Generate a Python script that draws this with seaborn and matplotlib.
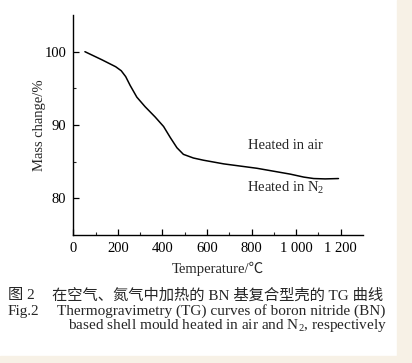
import pandas as pd
import seaborn as sns
import matplotlib.pyplot as plt
from matplotlib.patches import Rectangle

# TG curve
temperatura = [52, 128, 190, 215, 235, 255, 285, 322, 367, 405, 435, 465, 494, 539, 584,
               675, 824, 974, 1034, 1079, 1130, 1190]
massa = [100.0, 98.9, 97.95, 97.4, 96.6, 95.4, 93.8, 92.5, 91.1, 89.8, 88.3, 86.9, 86.0, 85.5,
         85.2, 84.7, 84.1, 83.3, 82.9, 82.7, 82.65, 82.7]

xticks = [0, 200, 400, 600, 800, 1000, 1200]
xlabels = ['0', '200', '400', '600', '800', '1 000', '1 200']
yticks = [80, 90, 100]

dados = pd.DataFrame({'T': temperatura, 'm': massa})

sns.set_style('ticks')
plt.rcParams['font.family'] = ['Liberation Serif', 'Noto Sans CJK SC']
plt.rcParams['mathtext.fontset'] = 'custom'
plt.rcParams['mathtext.rm'] = 'Liberation Serif'
plt.rcParams['mathtext.it'] = 'Liberation Serif:italic'
plt.rcParams['xtick.direction'] = 'in'
plt.rcParams['ytick.direction'] = 'in'

fig = plt.figure(figsize=(4.12, 3.63), dpi=100)
fig.patch.set_facecolor('white')
fig.patches.append(Rectangle((397 / 412, 0), 15 / 412, 1, transform=fig.transFigure,
                             color='#f7f1e6', zorder=-1))
fig.patches.append(Rectangle((0, 0), 1, 7 / 363, transform=fig.transFigure,
                             color='#f7f1e6', zorder=-1))

ax = fig.add_axes([0.178, 0.3526, 0.703, 0.606])
sns.lineplot(data=dados, x='T', y='m', ax=ax, color='black', linewidth=1.1)

ax.set_xlim(0, 1300)
ax.set_ylim(75, 105)
ax.set_xticks(xticks)
ax.set_xticklabels(xlabels)
ax.set_xticks(range(100, 1300, 200), minor=True)
ax.set_yticks(yticks)
ax.set_yticks([85, 95], minor=True)
ax.tick_params(which='major', length=4, width=0.9, labelsize=10.5, colors='black', pad=5)
ax.tick_params(which='minor', length=2.5, width=0.8)
sns.despine(ax=ax)
for s in ['left', 'bottom']:
    ax.spines[s].set_linewidth(1.0)
    ax.spines[s].set_color('black')

ax.set_xlabel('Temperature/℃', fontsize=10.5, labelpad=5)
ax.set_ylabel('Mass change/%', fontsize=10.5, labelpad=-1)

ax.text(951, 87.2, 'Heated in air', fontsize=10.5, ha='center', va='center')
ax.text(951, 81.4, 'Heated in N$_2$', fontsize=10.5, ha='center', va='center')

fig.text(8 / 412, 1 - 296 / 363, '图 2', fontsize=11, va='center', ha='left')
fig.text(52 / 412, 1 - 296 / 363, '在空气、氮气中加热的 BN 基复合型壳的 TG 曲线', fontsize=11,
         va='center', ha='left')
fig.text(8 / 412, 1 - 311 / 363, 'Fig.2', fontsize=11, va='center', ha='left')
fig.text(57 / 412, 1 - 311 / 363, 'Thermogravimetry (TG) curves of boron nitride (BN)',
         fontsize=11, va='center', ha='left')
fig.text(68 / 412, 1 - 325 / 363, 'based shell mould heated in air and N$_2$, respectively',
         fontsize=11, va='center', ha='left')

plt.savefig('out.png', dpi=100)
